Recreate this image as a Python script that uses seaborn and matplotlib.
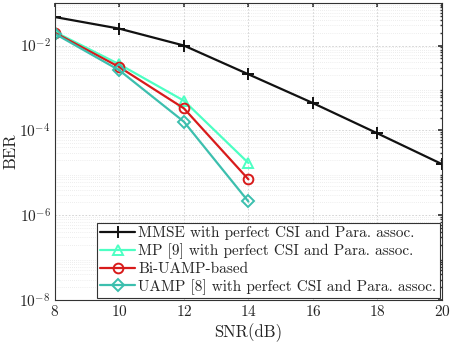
import matplotlib
matplotlib.use("Agg")
import matplotlib.pyplot as plt
import seaborn as sns
import pandas as pd
from matplotlib.ticker import LogLocator, NullFormatter

snr = [8, 10, 12, 14, 16, 18, 20]
snr_short = [8, 10, 12, 14]

ber_mmse = [4.7e-2, 2.5e-2, 1.0e-2, 2.1e-3, 4.4e-4, 8.5e-5, 1.6e-5]
ber_mp = [2.1e-2, 3.6e-3, 5.0e-4, 1.7e-5]
ber_biuamp = [2.0e-2, 3.1e-3, 3.3e-4, 7.0e-6]
ber_uamp = [1.9e-2, 2.6e-3, 1.6e-4, 2.1e-6]

labels = [
    "MMSE with perfect CSI and Para. assoc.",
    "MP [9] with perfect CSI and Para. assoc.",
    "Bi-UAMP-based",
    "UAMP [8] with perfect CSI and Para. assoc.",
]

sns.set_theme(style="white")
plt.rcParams["font.family"] = ["cmr10", "DejaVu Serif"]
plt.rcParams["mathtext.fontset"] = "cm"
plt.rcParams["axes.formatter.use_mathtext"] = True

fig = plt.figure(figsize=(4.5, 3.48), dpi=100)
ax = fig.add_axes([0.122, 0.138, 0.860, 0.853])

series = [
    (snr, ber_mmse, labels[0], "#111111", "+", 9),
    (snr_short, ber_mp, labels[1], "#4dffc3", "^", 7),
    (snr_short, ber_biuamp, labels[2], "#d81b1b", "o", 7),
    (snr_short, ber_uamp, labels[3], "#3cbfae", "D", 6),
]

for xs, ys, lab, col, mk, ms in series:
    df = pd.DataFrame({"snr": xs, "ber": ys})
    sns.lineplot(data=df, x="snr", y="ber", ax=ax, color=col, marker=mk,
                 markersize=ms, markerfacecolor="none", markeredgecolor=col,
                 markeredgewidth=1.4, linewidth=1.6, label=lab)

ax.set_yscale("log")
ax.set_xlim(8, 20)
ax.set_ylim(1e-8, 1e-1)
ax.set_xticks([8, 10, 12, 14, 16, 18, 20])
ax.set_yticks([1e-8, 1e-6, 1e-4, 1e-2])
ax.yaxis.set_minor_locator(LogLocator(base=10, subs=range(2, 10), numticks=20))
ax.yaxis.set_minor_formatter(NullFormatter())
ax.grid(True, which="major", color="#cfcfcf", linestyle=(0, (2, 2)), linewidth=0.6)
ax.grid(True, which="minor", axis="y", color="#dddddd", linestyle=(0, (1, 2)), linewidth=0.5)
ax.tick_params(direction="in", which="both", top=True, right=True, labelsize=11,
               length=3, color="#333333", pad=3)
ax.tick_params(which="minor", length=1.5)
for s in ax.spines.values():
    s.set_color("#333333")
    s.set_linewidth(0.8)

ax.set_xlabel("SNR(dB)", fontsize=12, labelpad=3)
ax.set_ylabel("BER", fontsize=12, labelpad=1)

leg = ax.legend(loc="lower right", fontsize=11, frameon=True, fancybox=False,
                edgecolor="#333333", framealpha=1, borderpad=0.2,
                labelspacing=0.2, handlelength=2.3, handletextpad=0.2,
                borderaxespad=0.15)
leg.get_frame().set_linewidth(0.8)

fig.savefig("out.png", dpi=100)
